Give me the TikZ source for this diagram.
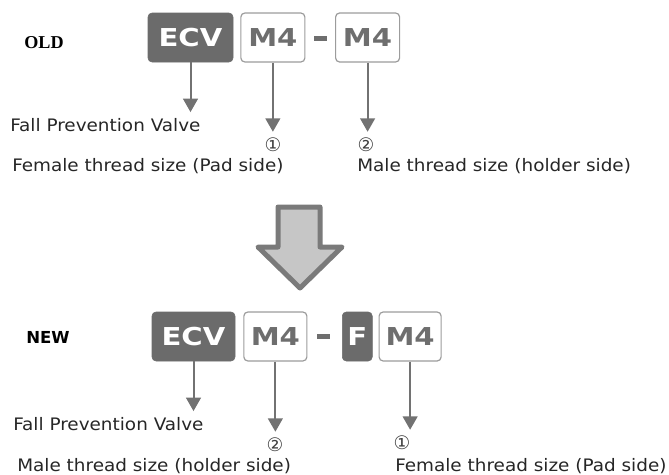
\documentclass[tikz,border=0pt]{standalone}
\usepackage{fontspec}
\newfontfamily\lblfont{DejaVu Sans}[FakeStretch=1.07]
\newfontfamily\numfont{DejaVu Sans}
\newfontfamily\tagfont{DejaVu Sans}[FakeStretch=1.18]
\newfontfamily\oldfont{Liberation Serif}
\usetikzlibrary{shapes,arrows.meta,backgrounds,positioning}
\definecolor{tagdark}{HTML}{6B6B6B}
\definecolor{tagline}{HTML}{9C9C9C}
\definecolor{tagtext}{HTML}{6E6E6E}
\definecolor{pilgray}{HTML}{727272}
\definecolor{bigfill}{HTML}{C6C6C6}
\definecolor{bigline}{HTML}{7A7A7A}
\tikzset{
  tag/.style = {rounded corners=3pt, minimum height=36.75pt, inner sep=0pt,
    font=\tagfont\bfseries\fontsize{18.5}{20}\selectfont},
  tag_d/.style = {tag, fill=tagdark, draw=tagdark, text=white},% dark tag
  tag_w/.style = {tag, fill=white, draw=tagline, line width=0.9pt,
    text=tagtext},% white tag
  dash_t/.style = {inner sep=0pt, fill=tagtext, minimum width=9.75pt,
    minimum height=3.75pt},% hyphen bar
  lbl/.style = {anchor=west, inner sep=0pt, text=black!85,
    font=\lblfont\fontsize{12.9}{15}\selectfont},
  num/.style = {inner sep=0pt, text=black!75,
    font=\numfont\fontsize{14}{15}\selectfont},
  pil/.style = {draw=pilgray, line width=1.5pt, shorten >=4.5pt,
    -{Triangle[width=11pt,length=10pt]}}
}

\begin{document}
\begin{tikzpicture}[x=0.75pt,y=-0.75pt]
    \useasboundingbox (0,0) rectangle (669,475);
    % OLD
    \node [font=\oldfont\bfseries\fontsize{13.6}{15}\selectfont] (old) at (44,43) {OLD};
    \node [tag_d, minimum width=63.75pt] (ecvA) at (190.5,37.5) {ECV};
    \node [tag_w, minimum width=48pt, right=5.25pt of ecvA] (m4A) {M4};
    \node [dash_t, right=6pt of m4A, yshift=-1pt] (dashA) {};
    \node [tag_w, minimum width=48pt, right=6pt of dashA, yshift=1pt] (m4B) {M4};
    \node [lbl] (fpvA) at (10,125) {Fall Prevention Valve};
    \node [num] (n1A) at (273,145) {①};
    \node [num] (n2A) at (366,145) {②};
    \node [lbl] (femA) at (12,166) {Female thread size (Pad side)};
    \node [lbl] (malA) at (357,166) {Male thread size (holder side)};
    \draw [pil] (ecvA) -- (ecvA |- fpvA.north);
    \draw [pil] (m4A) -- (m4A |- n1A.north);
    \draw [pil] (m4B) -- (m4B |- n2A.north);
    % big arrow
    \draw [fill=bigfill, draw=bigline, line width=3.75pt, line join=round]
      (278,207) -- (320,207) -- (320,247) -- (342,247) -- (300,288)
      -- (258,247) -- (278,247) -- cycle;
    % NEW
    \node [font=\numfont\bfseries\fontsize{12.4}{14}\selectfont] (new) at (48,337) {NEW};
    \node [tag_d, minimum width=62.25pt] (ecvB) at (193.5,336.5) {ECV};
    \node [tag_w, minimum width=47.25pt, right=6pt of ecvB] (m4C) {M4};
    \node [dash_t, right=6.75pt of m4C] (dashB) {};
    \node [tag_d, minimum width=22.5pt, right=9pt of dashB] (fB) {F};
    \node [tag_w, minimum width=46.5pt, right=4.5pt of fB] (m4D) {M4};
    \node [lbl] (fpvB) at (13,424) {Fall Prevention Valve};
    \node [num] (n2B) at (275,445) {②};
    \node [num] (n1B) at (402,443) {①};
    \node [lbl] (malB) at (17,466) {Male thread size (holder side)};
    \node [lbl] (femB) at (395,466) {Female thread size (Pad side)};
    \draw [pil] (ecvB) -- (ecvB |- fpvB.north);
    \draw [pil] (m4C) -- (m4C |- n2B.north);
    \draw [pil] (m4D) -- (m4D |- n1B.north);
\end{tikzpicture}
\end{document}
